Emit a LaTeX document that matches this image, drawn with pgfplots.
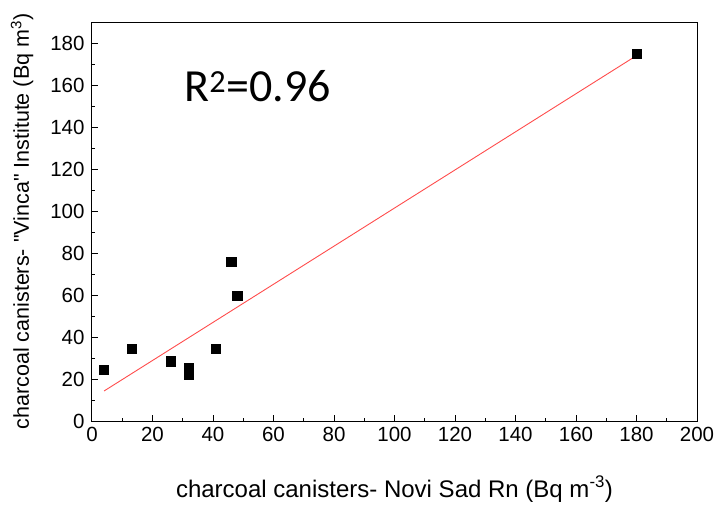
\documentclass[border=0pt]{standalone}
\usepackage{pgfplots}
\pgfplotsset{compat=1.18}
\usepackage{fontspec}
\setmainfont{Liberation Sans}[Ligatures=TeXOff]
\newfontfamily\calfont{Carlito}
\begin{document}
\begin{tikzpicture}
\begin{axis}[
  scale only axis,
  width=605pt, height=399pt,
  xmin=0, xmax=200, ymin=0, ymax=190,
  xtick={0,20,...,200}, ytick={0,20,...,180},
  minor tick num=1,
  tick align=inside,
  xtick pos=bottom, ytick pos=left,
  major tick length=6pt, minor tick length=3.5pt,
  tick style={black, line width=1pt},
  axis line style={line width=1pt},
  /pgf/number format/assume math mode=true,
  ticklabel style={font=\fontsize{20.5}{22}\selectfont},
  xticklabel style={yshift=-3pt},
  yticklabel style={xshift=-4pt},
  xlabel={charcoal canisters- Novi Sad Rn (Bq m\textsuperscript{-3})},
  ylabel={charcoal canisters- "Vinca" Institute (Bq m\textsuperscript{3})},
  xlabel style={font=\fontsize{24}{26}\selectfont, at={(axis description cs:0.5,0)}, anchor=base, yshift=-76pt},
  ylabel style={font=\fontsize{21.5}{23}\selectfont, at={(axis description cs:-0.1157,0.5)}, anchor=center},
  clip=false,
]
\addplot[only marks, mark=square*, mark size=4.6pt, black] coordinates {
  (4,24.6) (13,34.5) (26,28.5) (32,25.5) (32,22) (41,34.5) (46,76) (48,59.5) (180,175)
};
\addplot[red!70!white, line width=0.9pt] coordinates {(4,14.3) (180,174)};
\node[anchor=base west, font=\calfont\fontsize{46}{48}\selectfont, inner sep=0pt] at (axis cs:30.5,152) {R\textsuperscript{2}=0.96};
\end{axis}
\pgfresetboundingbox
\path ([shift={(-92pt,-83pt)}]current axis.south west) rectangle ([shift={(19pt,22pt)}]current axis.north east);
\end{tikzpicture}
\end{document}
